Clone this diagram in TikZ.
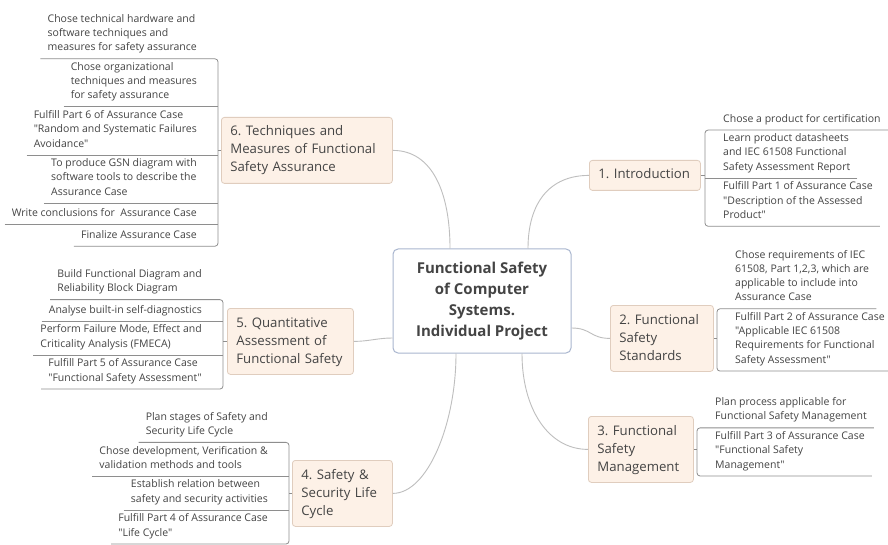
\documentclass[tikz,border=0pt]{standalone}
\usepackage{fontspec}
\setmainfont{Open Sans}[Ligatures=TeXOff]
\frenchspacing
\definecolor{txt}{HTML}{444444}
\definecolor{brfill}{HTML}{FDF1E7}
\definecolor{brdraw}{HTML}{E0CDBE}
\definecolor{cdraw}{HTML}{A9B6CF}
\definecolor{conncol}{HTML}{BEBEBE}
\definecolor{leafcol}{HTML}{8E8E8E}
\begin{document}
\begin{tikzpicture}[x=1pt,y=-1pt,
  leaf/.style={font=\fontsize{10.5}{14.2}\selectfont, align=left, inner xsep=7pt, inner ysep=3.5pt, text=txt,
    execute at begin node=\strut, execute at end node=\strut},
  leafL/.style={leaf, anchor=north east},
  leafR/.style={leaf, anchor=north west},
  branch/.style={draw=brdraw, fill=brfill, line width=0.8pt, rounded corners=3pt,
    font=\fontsize{13.2}{18}\selectfont, align=left, inner xsep=9pt, inner ysep=6pt, text=txt,
    anchor=north west, execute at begin node=\strut, execute at end node=\strut},
  central/.style={draw=cdraw, fill=white, line width=1pt, rounded corners=5pt,
    minimum width=178pt, minimum height=104pt, align=center, text=txt,
    font=\bfseries\fontsize{15}{21}\selectfont},
  curve/.style={draw=conncol, line width=0.9pt},
  lline/.style={draw=leafcol, line width=0.8pt, rounded corners=3pt}]
\useasboundingbox[fill=white] (0,0) rectangle (888,545);

% central topic
\node[central] (ctr) at (482,301) {Functional Safety\\of Computer\\Systems.\\Individual Project};

% branches
\node[branch, text width=153pt] (b6) at (221,117) {6. Techniques and\\Measures of Functional\\Safety Assurance};
\node[branch, text width=93pt] (b1) at (589,160) {1. Introduction};
\node[branch, text width=85pt] (b2) at (610,305) {2. Functional\\Safety\\Standards};
\node[branch, text width=87pt] (b3) at (588,416) {3. Functional\\Safety\\Management};
\node[branch, text width=108pt] (b5) at (227,308) {5. Quantitative\\Assessment of\\Functional Safety};
\node[branch, text width=82pt] (b4) at (292,460) {4. Safety \&\\Security Life\\Cycle};

% connectors centre -> branches
\draw[curve] ([xshift=-32pt]ctr.north) .. controls +(0,-55) and +(40,0) .. (b6.east);
\draw[curve] ([xshift=46pt]ctr.north) .. controls +(0,-45) and +(-40,0) .. (b1.west);
\draw[curve] ([yshift=-27pt]ctr.east) .. controls +(20,0) and +(-20,0) .. (b2.west);
\draw[curve] ([xshift=40pt]ctr.south) .. controls +(0,55) and +(-40,0) .. (b3.west);
\draw[curve] ([xshift=-26pt]ctr.south) .. controls +(0,70) and +(35,0) .. (b4.east);
\draw[curve] ([yshift=-37pt]ctr.west) .. controls +(-15,0) and +(15,0) .. (b5.east);

% ---- branch 6 leaves
\coordinate (v6) at (218,0);
\node[leafL] (l61) at (204,10.8) {Chose technical hardware and\\software techniques and\\measures for safety assurance};
\node[leafL] (l62) at (l61.south east) {Chose organizational\\techniques and measures\\for safety assurance};
\node[leafL] (l63) at (l62.south east) {Fulfill Part 6 of Assurance Case\\"Random and Systematic Failures\\Avoidance"};
\node[leafL] (l64) at (l63.south east) {To produce GSN diagram with\\software tools to describe the\\Assurance Case};
\node[leafL] (l65) at (l64.south east) {Write conclusions for~ Assurance Case};
\node[leafL] (l66) at (l65.south east) {Finalize Assurance Case};
\draw[lline] (l61.south west) -- (l61.south -| v6) -- (l66.south -| v6) -- (l66.south west);
\foreach \n in {l62,l63,l64,l65} \draw[lline] (\n.south west) -- (\n.south -| v6);
\draw[lline] (b6.west) -- (b6.west -| v6);

% ---- branch 5 leaves
\coordinate (v5) at (223,0);
\node[leafL] (l51) at (209,265.8) {Build Functional Diagram and\\Reliability Block Diagram};
\node[leafL] (l52) at (l51.south east) {Analyse built-in self-diagnostics};
\node[leafL] (l53) at (l52.south east) {Perform Failure Mode, Effect and\\Criticality Analysis (FMECA)};
\node[leafL] (l54) at (l53.south east) {Fulfill Part 5 of Assurance Case\\"Functional Safety Assessment"};
\draw[lline] (l51.south west) -- (l51.south -| v5) -- (l54.south -| v5) -- (l54.south west);
\foreach \n in {l52,l53} \draw[lline] (\n.south west) -- (\n.south -| v5);
\draw[lline] (b5.west) -- (b5.west -| v5);

% ---- branch 4 leaves
\coordinate (v4) at (289,0);
\node[leafL] (l41) at (275,408.5) {Plan stages of Safety and\\Security Life Cycle};
\node[leafL] (l42) at (l41.south east) {Chose development, Verification \&\\validation methods and tools};
\node[leafL] (l43) at (l42.south east) {Establish relation between\\safety and security activities};
\node[leafL] (l44) at (l43.south east) {Fulfill Part 4 of Assurance Case\\"Life Cycle"};
\draw[lline] (l41.south west) -- (l41.south -| v4) -- (l44.south -| v4) -- (l44.south west);
\foreach \n in {l42,l43} \draw[lline] (\n.south west) -- (\n.south -| v4);
\draw[lline] (b4.west) -- (b4.west -| v4);

% ---- branch 1 leaves
\coordinate (v1) at (705,0);
\node[leafR] (l11) at (716,108.5) {Chose a product for certification};
\node[leafR] (l12) at (l11.south west) {Learn product datasheets\\and IEC 61508 Functional\\Safety Assessment Report};
\node[leafR] (l13) at (l12.south west) {Fulfill Part 1 of Assurance Case\\"Description of the Assessed\\Product"};
\draw[lline] (l11.south east) -- (l11.south -| v1) -- (l13.south -| v1) -- (l13.south east);
\draw[lline] (l12.south east) -- (l12.south -| v1);
\draw[lline] (b1.east) -- (b1.east -| v1);

% ---- branch 2 leaves
\coordinate (v2) at (717,0);
\node[leafR] (l21) at (728,246.5) {Chose requirements of IEC\\61508, Part 1,2,3, which are\\applicable to include into\\Assurance Case};
\node[leafR] (l22) at (l21.south west) {Fulfill Part 2 of Assurance Case\\"Applicable IEC 61508\\Requirements for Functional\\Safety Assessment"};
\draw[lline] (l21.south east) -- (l21.south -| v2) -- (l22.south -| v2) -- (l22.south east);
\draw[lline] (b2.east) -- (b2.east -| v2);

% ---- branch 3 leaves
\coordinate (v3) at (697,0);
\node[leafR] (l31) at (708,394) {Plan process applicable for\\Functional Safety Management};
\node[leafR] (l32) at (l31.south west) {Fulfill Part 3 of Assurance Case\\"Functional Safety\\Management"};
\draw[lline] (l31.south east) -- (l31.south -| v3) -- (l32.south -| v3) -- (l32.south east);
\draw[lline] (b3.east) -- (b3.east -| v3);
\end{tikzpicture}
\end{document}
